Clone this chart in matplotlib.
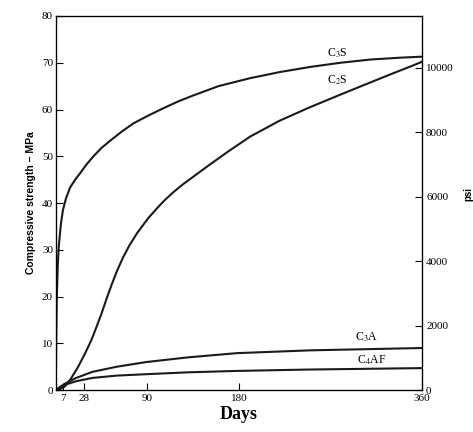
import matplotlib
matplotlib.use('Agg')
import matplotlib.pyplot as plt

# values (days, MPa)
c3s_days = [0, 0.3, 0.6, 1, 2, 3, 5, 7, 10, 14, 19, 24, 30, 37, 45, 55, 65, 76, 90, 105,
            120, 135, 160, 191, 220, 250, 280, 310, 340, 360]
c3s_mpa = [0, 8, 14, 20, 27, 31, 35.5, 38.5, 41, 43.3, 45, 46.4, 48.2, 50, 51.8, 53.6, 55.3,
           57, 58.6, 60.2, 61.7, 63, 65, 66.7, 68, 69.1, 70, 70.7, 71.1, 71.3]

c2s_days = [0, 5, 9, 15, 22, 28, 35, 40, 45, 50, 55, 60, 66, 72, 80, 91, 100, 107, 116, 125,
            135, 150, 170, 191, 220, 250, 280, 306, 330, 351, 360]
c2s_mpa = [0, 0.3, 0.8, 2.5, 5, 7.5, 10.7, 13.5, 16.4, 19.6, 22.6, 25.4, 28.3, 30.8, 33.6,
           36.8, 39, 40.6, 42.4, 44, 45.6, 48, 51.1, 54.2, 57.6, 60.5, 63.2, 65.5, 67.6, 69.4, 70.2]

c3a_days = [0, 5, 10, 20, 36, 60, 89, 130, 178, 250, 360]
c3a_mpa = [0, 0.8, 1.5, 2.6, 3.9, 5.0, 6.0, 7.0, 7.9, 8.5, 9.0]

c4af_days = [0, 5, 10, 20, 36, 60, 89, 130, 178, 250, 360]
c4af_mpa = [0, 0.7, 1.2, 1.9, 2.6, 3.1, 3.4, 3.8, 4.1, 4.4, 4.7]

x_ticks = [7, 28, 90, 180, 360]
y_ticks = [0, 10, 20, 30, 40, 50, 60, 70, 80]
psi_ticks = [0, 2000, 4000, 6000, 8000, 10000]
MPA_TO_PSI = 145.04

plt.rcParams['font.family'] = ['Liberation Serif', 'DejaVu Serif']
plt.rcParams['mathtext.fontset'] = 'stix'

fig = plt.figure(figsize=(4.73, 4.32), dpi=100)
ax = fig.add_axes([0.118, 0.097, 0.774, 0.866])

for d, v in [(c3s_days, c3s_mpa), (c2s_days, c2s_mpa), (c3a_days, c3a_mpa), (c4af_days, c4af_mpa)]:
    ax.plot(d, v, color='#1a1a1a', lw=1.5)

ax.set_xlim(0, 360)
ax.set_ylim(0, 80)
ax.set_xticks(x_ticks)
ax.set_yticks(y_ticks)
ax.tick_params(direction='in', length=5, width=0.8, labelsize=8, pad=2)
ax.tick_params(axis='x', pad=3)
for s in ax.spines.values():
    s.set_linewidth(0.9)

ax.text(277, 72.1, 'C$_3$S', fontsize=8.5, ha='center', va='center')
ax.text(277, 66.3, 'C$_2$S', fontsize=8.5, ha='center', va='center')
ax.text(306, 11.3, 'C$_3$A', fontsize=8.5, ha='center', va='center')
ax.text(311, 6.4, 'C$_4$AF', fontsize=8.5, ha='center', va='center')

ax.set_xlabel('Days', fontsize=13, fontweight='bold', labelpad=2)
ax.set_ylabel('Compressive strength \u2013 MPa', fontsize=7.5, fontweight='bold',
              family='Liberation Sans', labelpad=4)

ax2 = ax.twinx()
ax2.set_ylim(0, 80 * MPA_TO_PSI)
ax2.set_yticks(psi_ticks)
ax2.tick_params(direction='in', length=5, width=0.8, labelsize=8, pad=3)
fig.text(0.99, 0.55, 'psi', rotation=90, fontsize=7, ha='center', va='center',
         family='Liberation Sans', fontweight='bold')

fig.savefig('out.png', dpi=100)
